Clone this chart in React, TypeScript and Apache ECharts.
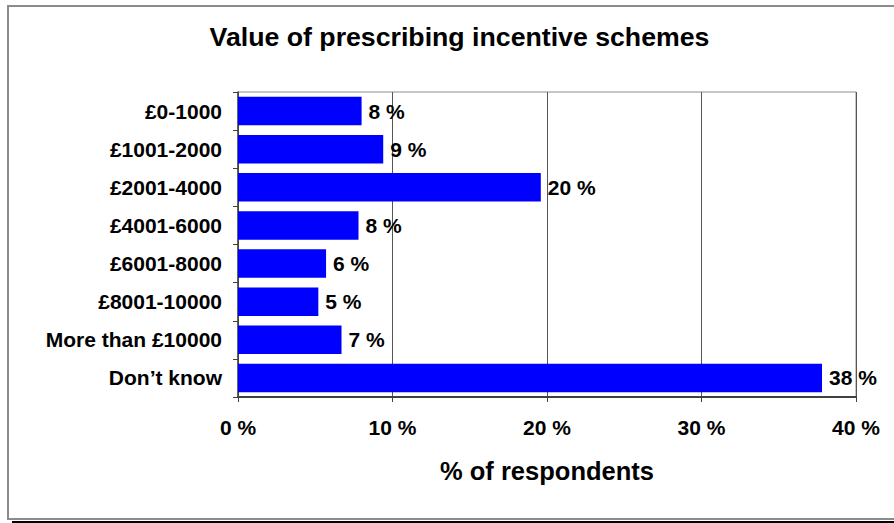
import React, { useEffect, useRef } from "react";
import * as echarts from "echarts";

const categories = [
  "£0-1000",
  "£1001-2000",
  "£2001-4000",
  "£4001-6000",
  "£6001-8000",
  "£8001-10000",
  "More than £10000",
  "Don’t know",
];
const values = [8.0, 9.4, 19.6, 7.8, 5.7, 5.2, 6.7, 37.8];
const xTicks = [0, 10, 20, 30, 40];
const titleText = "Value of prescribing incentive schemes";
const xAxisName = "% of respondents";

const FONT = '"Liberation Sans", Arial, sans-serif';

export default function App() {
  const ref = useRef<HTMLDivElement>(null);
  useEffect(() => {
    if (!ref.current) return;
    const chart = echarts.init(ref.current, undefined, { renderer: "svg" });
    chart.setOption({
      animation: false,
      backgroundColor: "#ffffff",
      textStyle: { fontFamily: FONT },
      grid: {
        left: 238,
        top: 92,
        width: 618,
        height: 305,
        show: true,
        borderColor: "#8c8c8c",
        borderWidth: 1,
        containLabel: false,
      },
      xAxis: {
        type: "value",
        min: xTicks[0],
        max: xTicks[xTicks.length - 1],
        interval: 10,
        name: xAxisName,
        nameLocation: "middle",
        nameGap: 61,
        nameTextStyle: { fontFamily: FONT, fontWeight: "bold", fontSize: 25.5, color: "#000" },
        axisLine: { show: true, lineStyle: { color: "#404040", width: 2 } },
        axisTick: { show: true, length: 5, lineStyle: { color: "#404040", width: 1 } },
        axisLabel: {
          margin: 20,
          fontFamily: FONT,
          fontWeight: "bold",
          fontSize: 21,
          color: "#000",
          formatter: (v: number) => `${v} %`,
        },
        splitLine: { show: true, lineStyle: { color: "#555555", width: 1 } },
      },
      yAxis: {
        type: "category",
        data: categories,
        inverse: true,
        axisLine: { show: true, lineStyle: { color: "#404040", width: 1.5 } },
        axisTick: { show: true, length: 5, lineStyle: { color: "#404040" } },
        axisLabel: {
          margin: 16,
          fontFamily: FONT,
          fontWeight: "bold",
          fontSize: 21,
          color: "#000",
        },
        splitLine: { show: false },
      },
      series: [
        {
          type: "bar",
          data: values,
          barCategoryGap: "25%",
          itemStyle: { color: "#0000ff" },
          label: {
            show: true,
            position: "right",
            distance: 7,
            fontFamily: FONT,
            fontWeight: "bold",
            fontSize: 21,
            color: "#000",
            formatter: (p: any) => `${Math.round(p.value)} %`,
          },
        },
      ],
      graphic: [
        {
          type: "rect",
          shape: { x: 8, y: 6, width: 900, height: 513 },
          style: { fill: "none", stroke: "#8c8c8c", lineWidth: 2 },
          silent: true,
          z: 0,
        },
        {
          type: "line",
          shape: { x1: 12, y1: 522, x2: 894, y2: 522 },
          style: { stroke: "#000", lineWidth: 2 },
          silent: true,
        },
        {
          type: "text",
          x: 459.5,
          y: 37,
          style: {
            text: titleText,
            textAlign: "center",
            textVerticalAlign: "middle",
            fontFamily: FONT,
            fontWeight: "bold",
            fontSize: 26.7,
            fill: "#000",
          },
        },
      ],
    });
    return () => chart.dispose();
  }, []);
  return (
    <div
      ref={ref}
      style={{ position: "fixed", left: 0, top: 0, width: 894, height: 523 }}
    />
  );
}
